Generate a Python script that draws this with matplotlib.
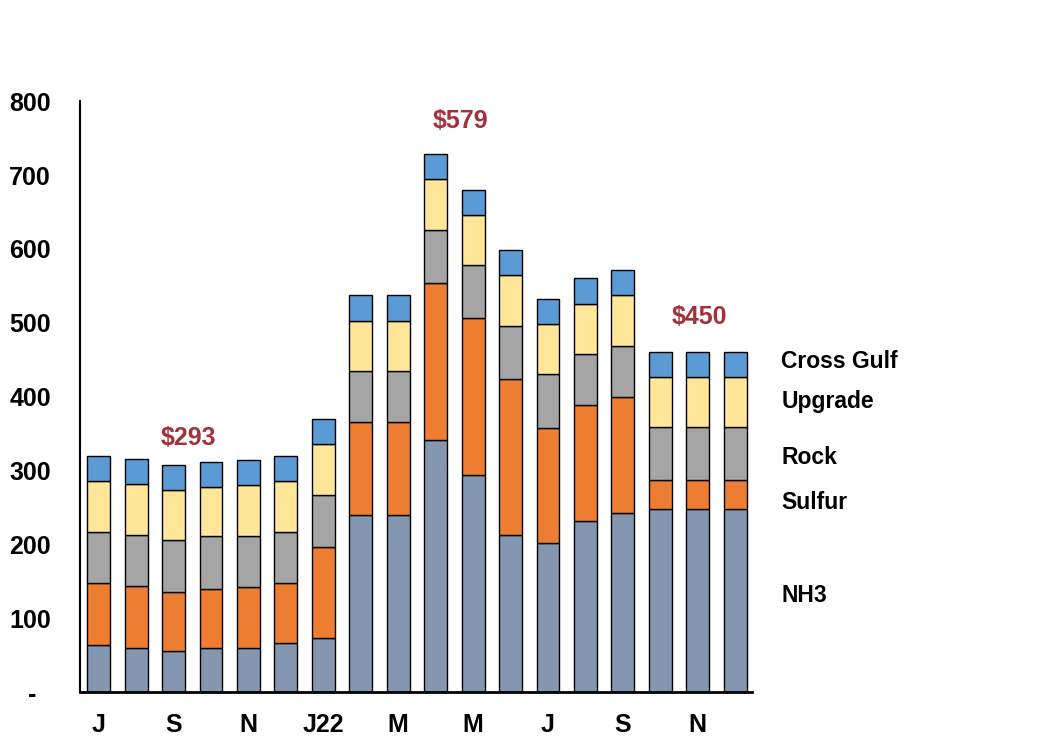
import numpy as np
import matplotlib
matplotlib.use('Agg')
import matplotlib.pyplot as plt

plt.rcParams['font.family'] = ['Liberation Sans', 'DejaVu Sans']
plt.rcParams['font.weight'] = 'bold'

# === Data (monthly, Jul-21 .. Dec-22) ===
month_labels = ['J', '', 'S', '', 'N', '', 'J22', '', 'M', '', 'M', '', 'J', '', 'S', '', 'N', '']
nh3 = [64, 59, 56, 59, 60, 67, 73, 240, 240, 341, 294, 212, 202, 232, 243, 248, 248, 248]
sulfur = [84, 85, 80, 81, 82, 81, 124, 125, 125, 213, 213, 212, 156, 156, 156, 39, 39, 39]
rock = [69, 69, 70, 71, 69, 69, 70, 70, 70, 72, 71, 72, 72, 70, 70, 72, 72, 72]
upgrade = [69, 69, 68, 67, 69, 69, 69, 67, 67, 68, 68, 68, 68, 68, 69, 68, 68, 68]
cross_gulf = [34, 34, 34, 34, 34, 34, 34, 35, 35, 34, 34, 34, 34, 35, 34, 34, 34, 34]

series_names = ['NH3', 'Sulfur', 'Rock', 'Upgrade', 'Cross Gulf']
series_colors = ['#8497B0', '#ED7D31', '#A5A5A5', '#FFE699', '#5B9BD5']

# callouts: (bar index, text)
callouts = [(2, '$293'), (9, '$579'), (16, '$450')]

fig = plt.figure(figsize=(10.5, 7.55), dpi=100)
ax = fig.add_axes([0.0762, 0.0834, 0.640, 0.7826])

x = np.arange(len(nh3))
bottom = np.zeros(len(x))
for vals, name, col in zip([nh3, sulfur, rock, upgrade, cross_gulf], series_names, series_colors):
    ax.bar(x, vals, width=0.61, bottom=bottom, color=col, edgecolor='black', linewidth=1.0, label=name)
    bottom += np.array(vals)

ax.set_ylim(0, 800)
ax.set_xlim(-0.5, 17.45)
ax.set_yticks(range(0, 900, 100))
ax.set_yticklabels(['-  '] + [str(v) for v in range(100, 900, 100)])
ax.set_xticks(x)
ax.set_xticklabels(month_labels)
ax.tick_params(axis='both', length=0, labelsize=18)
ax.tick_params(axis='y', pad=21)
ax.tick_params(axis='x', pad=15)
for lbl in ax.get_xticklabels() + ax.get_yticklabels():
    lbl.set_fontweight('bold')

for side in ['top', 'right']:
    ax.spines[side].set_visible(False)
ax.spines['left'].set_linewidth(1.5)
ax.spines['bottom'].set_linewidth(2.0)

# price callouts above bars
offsets = {2: (0.39, 36), 9: (0.67, 45), 16: (0.04, 47)}
for idx, txt in callouts:
    dx, dy = offsets[idx]
    ax.text(idx + dx, bottom[idx] + dy, txt, color='#A3303A', fontsize=18,
            fontweight='bold', ha='center', va='center')

# series labels at right, beside the last bar
label_y = {'Cross Gulf': 448, 'Upgrade': 394, 'Rock': 317, 'Sulfur': 256, 'NH3': 131}
for name in series_names:
    ax.text(18.23, label_y[name], name, fontsize=16.5, fontweight='bold',
            ha='left', va='center', clip_on=False)

fig.savefig('out.png', dpi=100)
